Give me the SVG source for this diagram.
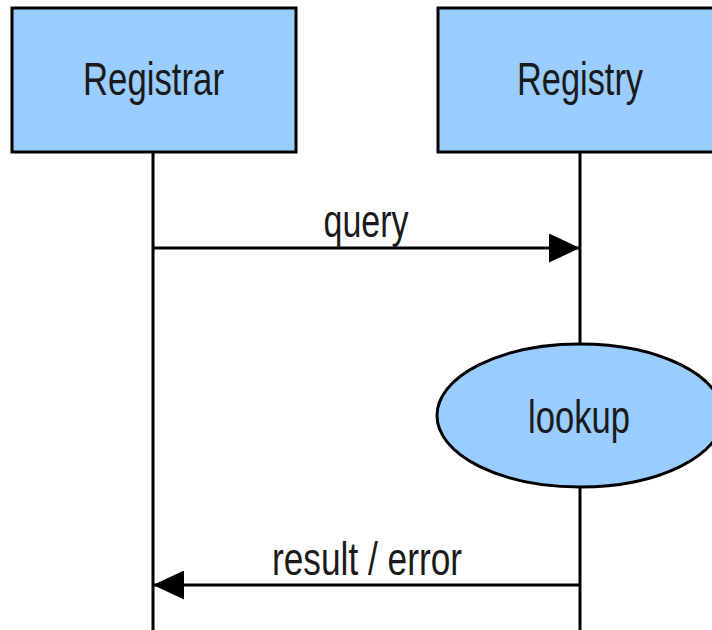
<svg xmlns="http://www.w3.org/2000/svg" width="712" height="630" viewBox="0 0 712 630">
<defs>
<style>
.box{fill:#99CCFF;stroke:#000;stroke-width:3}
.life{stroke:#000;stroke-width:3;fill:none}
.msg{stroke:#000;stroke-width:3;fill:none}
.t{font-family:"Liberation Sans",Arial,sans-serif;font-size:47px;fill:#1a1a1a;text-anchor:middle}
</style>
<marker id="ah" markerWidth="31" markerHeight="29" refX="31" refY="14.5" orient="auto" markerUnits="userSpaceOnUse">
<path d="M0,0 L31,14.5 L0,29 Z" fill="#000"/>
</marker>
</defs>
<rect width="712" height="630" fill="#fff"/>
<g id="connectors">
<line class="life" x1="153" y1="152" x2="153" y2="630"/>
<line class="life" x1="580" y1="152" x2="580" y2="344"/>
<line class="life" x1="580" y1="487" x2="580" y2="630"/>
<line class="msg" x1="153" y1="248" x2="580" y2="248" marker-end="url(#ah)"/>
<text class="t" x="366" y="237" textLength="85" lengthAdjust="spacingAndGlyphs">query</text>
<line class="msg" x1="580" y1="585" x2="153" y2="585" marker-end="url(#ah)"/>
<text class="t" x="367" y="575" textLength="190" lengthAdjust="spacingAndGlyphs">result / error</text>
</g>
<g id="registrar">
<rect class="box" x="12" y="8" width="284" height="144"/>
<text class="t" x="153.5" y="95" textLength="141" lengthAdjust="spacingAndGlyphs">Registrar</text>
</g>
<g id="registry">
<rect class="box" x="438" y="8" width="284" height="144"/>
<text class="t" x="580" y="95" textLength="126" lengthAdjust="spacingAndGlyphs">Registry</text>
</g>
<g id="lookup">
<ellipse class="box" cx="580" cy="415.5" rx="143" ry="71.5"/>
<text class="t" x="579" y="433" textLength="102" lengthAdjust="spacingAndGlyphs">lookup</text>
</g>
</svg>
